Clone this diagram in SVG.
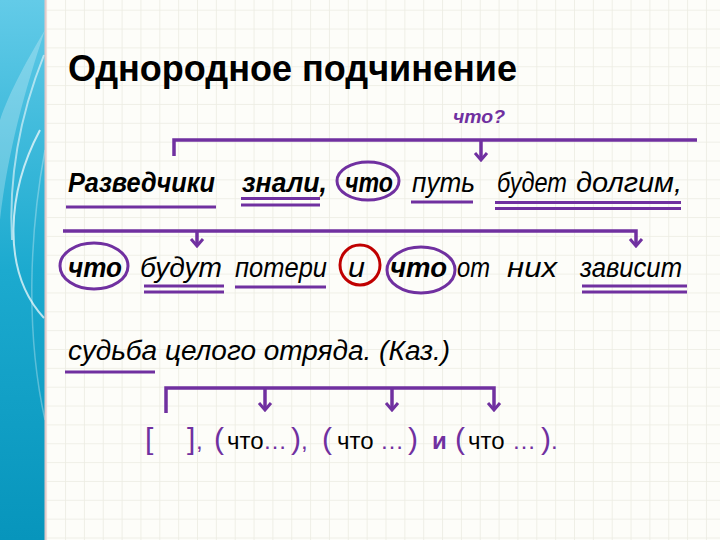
<svg xmlns="http://www.w3.org/2000/svg" width="720" height="540" viewBox="0 0 720 540">
<defs>
  <pattern id="grid" x="8.5" y="9.7" width="18.85" height="18.85" patternUnits="userSpaceOnUse">
    <path d="M0,0 H18.85 M0,0 V18.85" fill="none" stroke="#ECECE2" stroke-width="1.6"/>
  </pattern>
  <linearGradient id="band" x1="0" y1="0" x2="0" y2="1">
    <stop offset="0" stop-color="#63CBE8"/>
    <stop offset="0.5" stop-color="#1CAACF"/>
    <stop offset="1" stop-color="#0795BC"/>
  </linearGradient>
  <marker id="chev" viewBox="-10 -8 12 16" markerWidth="12" markerHeight="16" refX="0" refY="0" orient="auto" markerUnits="userSpaceOnUse">
    <path d="M-7,-6 L0,0 L-7,6" fill="none" stroke="#7030A0" stroke-width="3" stroke-linejoin="miter"/>
  </marker>
  <style>
    .sent{font-family:"Liberation Sans",Arial,sans-serif;font-style:italic;font-size:27px;fill:#000}
    .b{font-weight:bold}
    .ln{fill:none;stroke:#7030A0;stroke-width:3.5}
    .ul{fill:none;stroke:#7030A0;stroke-width:3.2}
    .ring{fill:none;stroke:#7030A0;stroke-width:3}
    .scheme{font-family:"Liberation Sans",Arial,sans-serif;fill:#7030A0}
  </style>
</defs>

<rect width="720" height="540" fill="#FDFDF9"/>
<rect x="46" width="674" height="540" fill="url(#grid)"/>
<rect width="45" height="540" fill="url(#band)"/>
<path d="M45,30 C25,90 8,150 0,220 L0,120 C10,90 30,55 45,30 Z" fill="#FFFFFF" fill-opacity="0.25"/>
<path d="M44,55 C22,110 8,170 12,240" fill="none" stroke="#FFFFFF" stroke-opacity="0.55" stroke-width="2"/>
<path d="M40,130 C8,190 0,270 44,318" fill="none" stroke="#FFFFFF" stroke-opacity="0.7" stroke-width="2"/>
<path d="M45,150 C30,230 25,330 45,420" fill="none" stroke="#FFFFFF" stroke-opacity="0.3" stroke-width="1.5"/>
<line x1="45.5" y1="0" x2="45.5" y2="540" stroke="#E3C9C9" stroke-width="2"/>

<g id="title">
  <text x="68" y="81" font-family="Liberation Sans, Arial, sans-serif" font-weight="bold" font-size="36" fill="#000" textLength="449" lengthAdjust="spacingAndGlyphs">Однородное подчинение</text>
</g>

<g id="question">
  <text x="453" y="123" font-family="Liberation Sans, Arial, sans-serif" font-weight="bold" font-style="italic" font-size="18" fill="#7030A0" textLength="52" lengthAdjust="spacingAndGlyphs">что?</text>
</g>

<g id="connectors">
  <path class="ln" d="M174,156 V140 H697"/>
  <path class="ln" d="M481,140 V160" marker-end="url(#chev)"/>
  <path class="ln" d="M63,231 H636 V246" marker-end="url(#chev)"/>
  <path class="ln" d="M197,231 V246" marker-end="url(#chev)"/>
  <path class="ln" d="M166,413 V388 H494 V410" marker-end="url(#chev)"/>
  <path class="ln" d="M265,388 V410" marker-end="url(#chev)"/>
  <path class="ln" d="M392,388 V410" marker-end="url(#chev)"/>
</g>

<g id="sentence-line1">
  <text class="sent b" x="68" y="192" textLength="147" lengthAdjust="spacingAndGlyphs">Разведчики</text>
  <text class="sent b" x="242" y="192" textLength="85" lengthAdjust="spacingAndGlyphs">знали,</text>
  <text class="sent b" x="345" y="192" textLength="48" lengthAdjust="spacingAndGlyphs">что</text>
  <text class="sent" x="412" y="192" textLength="63" lengthAdjust="spacingAndGlyphs">путь</text>
  <text class="sent" x="497" y="192" textLength="70" lengthAdjust="spacingAndGlyphs">будет</text>
  <text class="sent" x="576" y="192" textLength="106" lengthAdjust="spacingAndGlyphs">долгим,</text>
  <ellipse class="ring" cx="368" cy="181" rx="31" ry="19"/>
  <line class="ul" x1="66" y1="207" x2="216" y2="207"/>
  <line class="ul" x1="241" y1="198.5" x2="320" y2="198.5"/>
  <line class="ul" x1="241" y1="205" x2="320" y2="205"/>
  <line class="ul" x1="411" y1="202" x2="473" y2="202"/>
  <line class="ul" x1="495" y1="202.5" x2="681" y2="202.5"/>
  <line class="ul" x1="495" y1="208.5" x2="681" y2="208.5"/>
</g>

<g id="sentence-line2">
  <text class="sent b" x="68" y="277" textLength="54" lengthAdjust="spacingAndGlyphs">что</text>
  <text class="sent" x="140" y="277" textLength="82" lengthAdjust="spacingAndGlyphs">будут</text>
  <text class="sent" x="235" y="277" textLength="92" lengthAdjust="spacingAndGlyphs">потери</text>
  <text class="sent" x="348" y="277" textLength="17" lengthAdjust="spacingAndGlyphs">и</text>
  <text class="sent b" x="390" y="277" textLength="57" lengthAdjust="spacingAndGlyphs">что</text>
  <text class="sent" x="457" y="277" textLength="33" lengthAdjust="spacingAndGlyphs">от</text>
  <text class="sent" x="507" y="277" textLength="50" lengthAdjust="spacingAndGlyphs">них</text>
  <text class="sent" x="580" y="277" textLength="102" lengthAdjust="spacingAndGlyphs">зависит</text>
  <ellipse class="ring" cx="94" cy="266" rx="34" ry="23"/>
  <ellipse cx="360" cy="265" rx="20" ry="20" fill="none" stroke="#C00000" stroke-width="3"/>
  <ellipse class="ring" cx="421" cy="270" rx="34" ry="23"/>
  <line class="ul" x1="144" y1="286" x2="224" y2="286"/>
  <line class="ul" x1="144" y1="292" x2="224" y2="292"/>
  <line class="ul" x1="235" y1="287" x2="326" y2="287"/>
  <line class="ul" x1="582" y1="286" x2="687" y2="286"/>
  <line class="ul" x1="582" y1="292" x2="687" y2="292"/>
</g>

<g id="sentence-line3">
  <text class="sent" x="68" y="360" textLength="382" lengthAdjust="spacingAndGlyphs">судьба целого отряда. (Каз.)</text>
  <line class="ul" x1="65" y1="372" x2="155" y2="372"/>
</g>

<g id="scheme">
  <text class="scheme" y="449" font-size="30">
    <tspan x="145">[</tspan><tspan x="187">]</tspan><tspan x="196" font-size="24">,</tspan><tspan x="214">(</tspan><tspan x="227" font-size="24" fill="#000">что</tspan><tspan x="263" font-size="24">…</tspan><tspan x="291">)</tspan><tspan x="301" font-size="24">,</tspan><tspan x="322">(</tspan><tspan x="337" font-size="24" fill="#000">что</tspan><tspan x="380" font-size="24">…</tspan><tspan x="408">)</tspan><tspan x="432" font-size="24" font-weight="bold">и</tspan><tspan x="455">(</tspan><tspan x="468" font-size="24" fill="#000">что</tspan><tspan x="512" font-size="24">…</tspan><tspan x="541">)</tspan><tspan x="551" font-size="24">.</tspan>
  </text>
</g>
</svg>
